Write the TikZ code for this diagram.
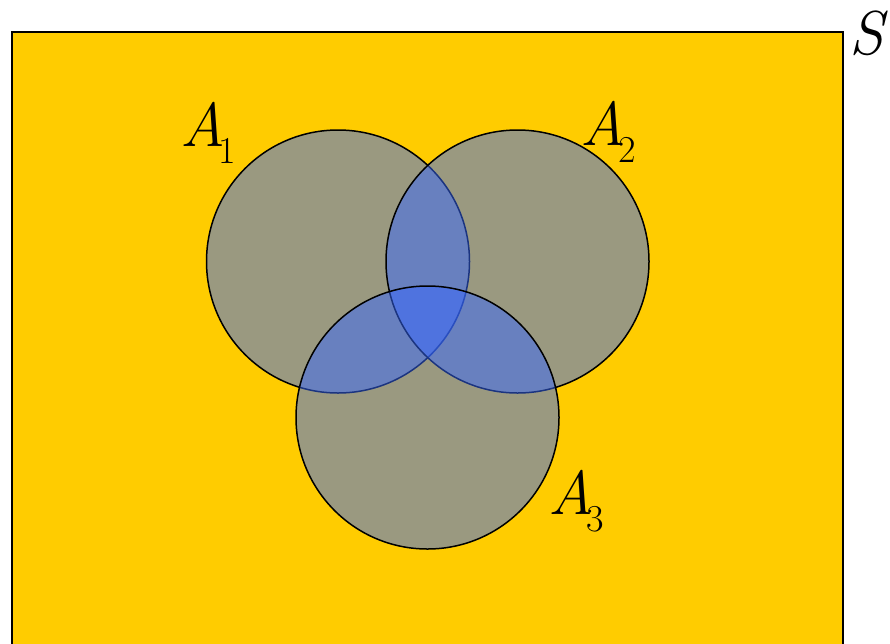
\documentclass[tikz,border=0pt]{standalone}
\usepackage{fontspec}
\definecolor{bg}{RGB}{255,204,0}
\definecolor{setc}{RGB}{55,104,255}
\newcommand{\subsc}[1]{\kern-7pt{\fontsize{38}{38}\selectfont\upshape\raisebox{-17.5pt}{#1}}}
\begin{document}
\begin{tikzpicture}[x=1pt,y=-1pt,
  setcirc/.style={circle, minimum size=263pt, inner sep=0pt, fill=setc, fill opacity=0.5, draw=black, draw opacity=1, text opacity=1, line width=1.5pt},
  lab/.style={anchor=base west, inner sep=0pt, font=\fontsize{62}{62}\selectfont\itshape}]
\useasboundingbox (0,0) rectangle (890,643);
\fill[bg] (12,32) rectangle (843,650);
\draw[line width=2pt] (12,650) -- (12,32) -- (843,32) -- (843,650);
\node[setcirc] (a1) at (338,261.5) {};
\node[setcirc] (a2) at (517.5,261.5) {};
\node[setcirc] (a3) at (427.5,417.5) {};
\node[lab] (l1) at (180,146) {A\subsc{1}};
\node[lab] (l2) at (580,145) {A\subsc{2}};
\node[lab] (l3) at (548,514) {A\subsc{3}};
\node[lab] (s) at (849,54) {S};
\end{tikzpicture}
\end{document}
